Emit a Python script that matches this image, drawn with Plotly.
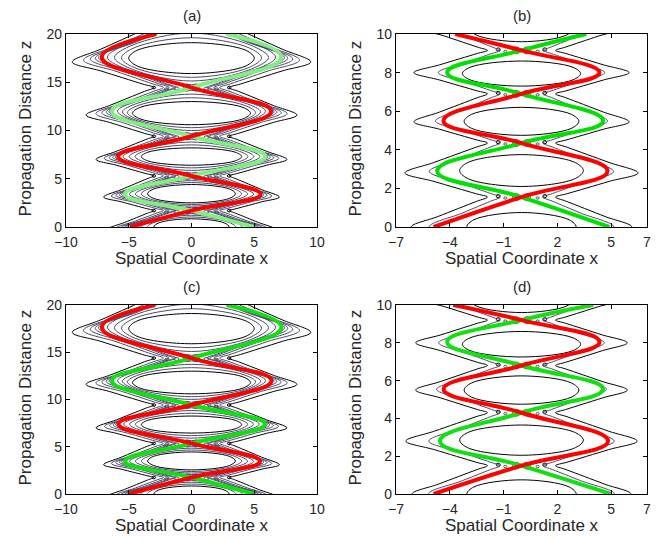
import plotly.graph_objects as go

FIG_W, FIG_H = 665, 541
FONT = "Liberation Sans, Arial, Helvetica, sans-serif"
TXT = "#262626"
BLACK = "#000000"
NAVY = "#4a4a68"
RED = "#ff0000"

# ---------------- values ----------------
# Panel (a): beam trajectories
a_turn_z = [0.0, 3.4, 7.3, 12.0, 17.6]
a_red_turn_x = [-4.9, 5.5, -5.85, 6.35, -7.15]
a_green_turn_x = [5.0, -5.3, 5.9, -6.35, 7.15]
a_cross_z = [1.7, 5.3, 9.4, 14.45]
a_end_z = 20.0
a_red_end_x = -2.8
a_green_end_x = 2.8
# Panel (a): contour skeleton (per lobe)
a_lobe_amp = [5.0, 5.4, 5.9, 6.35, 7.15]
a_cross_ext = [-1.7, 1.7, 5.3, 9.4, 14.45, 20.9]
a_outer_x = [6.6, 7.0, 7.6, 8.4, 9.5]
a_outer_z = [-0.2, 3.1, 7.0, 11.6, 17.1]
a_waist_x = 3.0
a_inner_x = [3.0, 3.5, 4.0, 4.7, 5.0]
a_inner_lo = [-0.85, 2.5, 6.4, 10.6, 15.9]
a_inner_hi = [0.85, 4.4, 8.2, 13.0, 19.1]

# Panel (b)
b_turn_z = [0.0, 2.9, 5.5, 8.0]
b_red_turn_x = [-4.9, 4.8, -4.35, 4.35]
b_green_turn_x = [4.9, -4.7, 4.55, -4.15]
b_cross_z = [1.55, 4.35, 6.9, 9.15]
b_end_z = 10.0
b_red_end_x = -3.7
b_green_end_x = 3.6
b_lobe_z = [0.0, 2.9, 5.5, 8.0, 10.3]
b_lobe_amp = [4.9, 4.8, 4.5, 4.3, 3.9]
b_cross_ext = [-1.5, 1.55, 4.35, 6.9, 9.15, 11.6]
b_outer_x = [6.15, 6.5, 6.0, 6.0, 5.6]
b_outer_z = [0.0, 2.8, 5.45, 8.0, 10.3]
b_waist_x = 1.9
b_inner_x = [3.05, 3.45, 3.2, 3.3, 2.9]
b_inner_lo = [-0.75, 2.1, 4.75, 7.3, 9.6]
b_inner_hi = [0.75, 3.75, 6.2, 8.6, 11.0]

# Panel (c)
c_turn_z = [0.0, 3.45, 7.4, 12.0, 17.65]
c_red_turn_x = [-5.0, 5.45, -5.82, 6.37, -7.14]
c_green_turn_x = [5.0, -5.3, 5.85, -6.34, 7.17]
c_cross_z = [1.75, 5.35, 9.42, 14.38]
c_end_z = 20.0
c_red_end_x = -2.9
c_green_end_x = 2.8
c_lobe_amp = [5.0, 5.4, 5.85, 6.35, 7.15]
c_cross_ext = [-1.75, 1.75, 5.35, 9.42, 14.38, 20.9]
c_outer_x = [6.6, 7.0, 7.6, 8.4, 9.5]
c_outer_z = [-0.2, 3.1, 7.0, 11.6, 17.1]
c_waist_x = 3.0
c_inner_x = [3.0, 3.5, 4.0, 4.7, 5.0]
c_inner_lo = [-0.85, 2.55, 6.45, 10.6, 15.9]
c_inner_hi = [0.85, 4.45, 8.25, 13.0, 19.1]

# Panel (d)
d_turn_z = [0.0, 2.8, 5.55, 8.05]
d_red_turn_x = [-4.9, 4.83, -4.35, 4.35]
d_green_turn_x = [5.0, -4.55, 4.55, -4.15]
d_cross_z = [1.5, 4.3, 6.8, 9.2]
d_end_z = 10.0
d_red_end_x = -3.8
d_green_end_x = 4.0
d_lobe_z = [0.0, 2.8, 5.55, 8.0, 10.3]
d_lobe_amp = [4.95, 4.85, 4.45, 4.3, 4.0]
d_cross_ext = [-1.5, 1.5, 4.3, 6.8, 9.2, 11.6]
d_outer_x = [6.1, 6.45, 5.9, 5.9, 5.6]
d_outer_z = [0.0, 2.8, 5.5, 8.0, 10.3]
d_waist_x = 1.9
d_inner_x = [3.05, 3.45, 3.2, 3.3, 2.9]
d_inner_lo = [-0.75, 2.05, 4.75, 7.25, 9.6]
d_inner_hi = [0.75, 3.65, 6.25, 8.6, 11.0]

# axis ticks
ab_x_ticks = [-10, -5, 0, 5, 10]
ab_z_ticks = [0, 5, 10, 15, 20]
bd_x_ticks = [-7, -4, -1, 2, 5, 7]
bd_z_ticks = [0, 2, 4, 6, 8, 10]
panel_titles = ["(a)", "(b)", "(c)", "(d)"]
x_label = "Spatial Coordinate x"
z_label = "Propagation Distance z"

# ---------------- helpers ----------------

def traj(turn_z, turn_x, cross_z, end_z, end_x):
    xs, zs = [], []
    for i in range(len(turn_z)):
        xs.append(turn_x[i]); zs.append(turn_z[i])
        if i < len(cross_z):
            xs.append(0.0); zs.append(cross_z[i])
    xs.append(end_x); zs.append(end_z)
    return xs, zs


def outer_line(f, lobe_z, amp, outer_x, outer_z, cross_ext, waist, waist0=1.0):
    w = waist0 + f * (waist - waist0)
    tips = [(amp[i] + f * (outer_x[i] - amp[i]), lobe_z[i] + f * (outer_z[i] - lobe_z[i]))
            for i in range(len(amp))]
    near_w = 0.14
    near_t = 0.5 + 0.15 * f
    xs, zs = [], []
    for i, c in enumerate(cross_ext):
        if i > 0:
            tx, tz = tips[i - 1]
            xs.append(w + near_w * (tx - w)); zs.append(c + near_w * (tz - c))
        xs.append(w); zs.append(c)
        if i < len(tips):
            tx, tz = tips[i]
            xs.append(w + near_w * (tx - w)); zs.append(c + near_w * (tz - c))
            xs.append(w + near_t * (tx - w)); zs.append(c + near_t * (tz - c))
            xs.append(tx); zs.append(tz)
            if i + 1 < len(cross_ext):
                c2 = cross_ext[i + 1]
                xs.append(w + near_t * (tx - w)); zs.append(c2 + near_t * (tz - c2))
    return xs, zs


def inner_lens(i, f, lobe_z, amp, cross_ext, inner_x, inner_lo, inner_hi):
    bL = amp[i] - 0.45
    blo = cross_ext[i] + 0.3
    bhi = cross_ext[i + 1] - 0.3
    L = bL + f * (inner_x[i] - bL)
    lo = blo + f * (inner_lo[i] - blo)
    hi = bhi + f * (inner_hi[i] - bhi)
    zt = lobe_z[i] + f * ((inner_lo[i] + inner_hi[i]) / 2 - lobe_z[i])
    k = 0.72 + 0.15 * f
    xs = [0, -k * L, -L, -k * L, 0, k * L, L, k * L, 0]
    zs = [lo, (lo + zt) / 2, zt, (hi + zt) / 2, hi, (hi + zt) / 2, zt, (lo + zt) / 2, lo]
    return xs, zs


fig = go.Figure()
shapes = []

panels = [
    dict(n=1, dx=(66, 317), dy=(34, 227), xr=[-10, 10], xt=ab_x_ticks, zr=[0, 20], zt=ab_z_ticks,
         turn_z=a_turn_z, red=a_red_turn_x, green=a_green_turn_x, cross=a_cross_z,
         end_z=a_end_z, red_end=a_red_end_x, green_end=a_green_end_x,
         lobe_z=a_turn_z, amp=a_lobe_amp, cross_ext=a_cross_ext, outer_x=a_outer_x, outer_z=a_outer_z,
         waist=a_waist_x, inner_x=a_inner_x, inner_lo=a_inner_lo, inner_hi=a_inner_hi,
         out_fracs=[1.0, 0.62, 0.39, 0.22, 0.11], in_fracs=[0.0, 0.33, 0.66, 1.0],
         gcol="#80ee80", kind="wide"),
    dict(n=2, dx=(396, 647), dy=(34, 227), xr=[-7, 7], xt=bd_x_ticks, zr=[0, 10], zt=bd_z_ticks,
         turn_z=b_turn_z, red=b_red_turn_x, green=b_green_turn_x, cross=b_cross_z,
         end_z=b_end_z, red_end=b_red_end_x, green_end=b_green_end_x,
         lobe_z=b_lobe_z, amp=b_lobe_amp, cross_ext=b_cross_ext, outer_x=b_outer_x, outer_z=b_outer_z,
         waist=b_waist_x, inner_x=b_inner_x, inner_lo=b_inner_lo, inner_hi=b_inner_hi,
         out_fracs=[1.0, 0.2], in_fracs=[1.0],
         gcol="#00e000", kind="narrow"),
    dict(n=3, dx=(66, 317), dy=(305, 494), xr=[-10, 10], xt=ab_x_ticks, zr=[0, 20], zt=ab_z_ticks,
         turn_z=c_turn_z, red=c_red_turn_x, green=c_green_turn_x, cross=c_cross_z,
         end_z=c_end_z, red_end=c_red_end_x, green_end=c_green_end_x,
         lobe_z=c_turn_z, amp=c_lobe_amp, cross_ext=c_cross_ext, outer_x=c_outer_x, outer_z=c_outer_z,
         waist=c_waist_x, inner_x=c_inner_x, inner_lo=c_inner_lo, inner_hi=c_inner_hi,
         out_fracs=[1.0, 0.62, 0.39, 0.22, 0.11], in_fracs=[0.0, 0.33, 0.66, 1.0],
         gcol="#10e010", kind="wide"),
    dict(n=4, dx=(396, 647), dy=(305, 494), xr=[-7, 7], xt=bd_x_ticks, zr=[0, 10], zt=bd_z_ticks,
         turn_z=d_turn_z, red=d_red_turn_x, green=d_green_turn_x, cross=d_cross_z,
         end_z=d_end_z, red_end=d_red_end_x, green_end=d_green_end_x,
         lobe_z=d_lobe_z, amp=d_lobe_amp, cross_ext=d_cross_ext, outer_x=d_outer_x, outer_z=d_outer_z,
         waist=d_waist_x, inner_x=d_inner_x, inner_lo=d_inner_lo, inner_hi=d_inner_hi,
         out_fracs=[1.0, 0.2], in_fracs=[1.0],
         gcol="#10e010", kind="narrow"),
]

blob_styles = {
    "wide": [(0.35, 0.0, 0.3, 0.38, NAVY), (0.35, 0.0, 0.14, 0.18, NAVY),
             (1.2, -0.1, 0.2, 0.16, NAVY), (2.0, -0.15, 0.16, 0.12, NAVY), (3.0, 0.0, 0.14, 0.14, BLACK)],
    "narrow": [(0.3, 0.0, 0.2, 0.18, NAVY), (0.3, 0.0, 0.09, 0.09, NAVY),
               (1.3, 0.05, 0.11, 0.08, BLACK), (0.9, -0.05, 0.09, 0.06, NAVY)],
}

layout_axes = {}
annotations = []
for p in panels:
    n = p["n"]
    xa = "x" if n == 1 else f"x{n}"
    ya = "y" if n == 1 else f"y{n}"
    # contour lines: outer wavy lines
    for f in p["out_fracs"]:
        col = BLACK if f == 1.0 else NAVY
        xs, zs = outer_line(f, p["lobe_z"], p["amp"], p["outer_x"], p["outer_z"], p["cross_ext"], p["waist"])
        for side in (-1, 1):
            fig.add_trace(go.Scatter(x=[side * v for v in xs], y=zs, mode="lines", xaxis=xa, yaxis=ya,
                                     line=dict(color=col, width=1, shape="spline", smoothing=1.0),
                                     hoverinfo="skip", showlegend=False))
    # inner lenses
    for i in range(len(p["amp"])):
        for f in p["in_fracs"]:
            col = BLACK if f == 1.0 else NAVY
            xs, zs = inner_lens(i, f, p["lobe_z"], p["amp"], p["cross_ext"], p["inner_x"], p["inner_lo"], p["inner_hi"])
            fig.add_trace(go.Scatter(x=xs, y=zs, mode="lines", xaxis=xa, yaxis=ya,
                                     line=dict(color=col, width=1, shape="spline", smoothing=1.0),
                                     hoverinfo="skip", showlegend=False))
    # small closed contours near the crossings
    for c in p["cross"]:
        for (dx, dz, rx, rz, col) in blob_styles[p["kind"]]:
            for side in (-1, 1):
                cx = side * dx
                shapes.append(dict(type="circle", xref=xa, yref=ya, x0=cx - rx, x1=cx + rx,
                                   y0=c + dz - rz, y1=c + dz + rz, line=dict(color=col, width=1), layer="below"))
    # beams
    gx, gz = traj(p["turn_z"], p["green"], p["cross"], p["end_z"], p["green_end"])
    fig.add_trace(go.Scatter(x=gx, y=gz, mode="lines", xaxis=xa, yaxis=ya,
                             line=dict(color=p["gcol"], width=4, shape="spline", smoothing=1.3),
                             hoverinfo="skip", showlegend=False))
    rx_, rz_ = traj(p["turn_z"], p["red"], p["cross"], p["end_z"], p["red_end"])
    fig.add_trace(go.Scatter(x=rx_, y=rz_, mode="lines", xaxis=xa, yaxis=ya,
                             line=dict(color=RED, width=4, shape="spline", smoothing=1.3),
                             hoverinfo="skip", showlegend=False))

    x0, x1 = p["dx"]
    top, bot = p["dy"]
    common = dict(showline=True, linecolor="black", linewidth=1.2, mirror="ticks", ticks="inside",
                  ticklen=4, tickcolor="black", tickwidth=1, showgrid=False, zeroline=False,
                  tickfont=dict(family=FONT, size=14, color=TXT))
    layout_axes["xaxis" if n == 1 else f"xaxis{n}"] = dict(
        common, domain=[x0 / FIG_W, x1 / FIG_W], range=p["xr"], tickvals=p["xt"], anchor=ya,
        ticklabelstandoff=2)
    layout_axes["yaxis" if n == 1 else f"yaxis{n}"] = dict(
        common, domain=[1 - bot / FIG_H, 1 - top / FIG_H], range=p["zr"], tickvals=p["zt"], anchor=xa)

    cx = (x0 + x1) / 2
    annotations.append(dict(text=panel_titles[n - 1], x=cx / FIG_W, y=1 - (top - 19) / FIG_H,
                            xref="paper", yref="paper", showarrow=False, xanchor="center", yanchor="middle",
                            font=dict(family=FONT, size=15, color=TXT)))
    annotations.append(dict(text=x_label, x=cx / FIG_W, y=1 - (bot + 31) / FIG_H,
                            xref="paper", yref="paper", showarrow=False, xanchor="center", yanchor="middle",
                            font=dict(family=FONT, size=17, color=TXT)))
    annotations.append(dict(text=z_label, x=(x0 - 41) / FIG_W, y=1 - ((top + bot) / 2 - 2) / FIG_H,
                            xref="paper", yref="paper", showarrow=False, xanchor="center", yanchor="middle",
                            textangle=-90, font=dict(family=FONT, size=17, color=TXT)))

fig.update_layout(
    width=FIG_W, height=FIG_H, template="none",
    margin=dict(l=0, r=0, t=0, b=0, autoexpand=False),
    paper_bgcolor="white", plot_bgcolor="white",
    shapes=shapes, annotations=annotations, showlegend=False,
    **layout_axes,
)

fig.write_html("out.html",
               config={"displayModeBar": False, "staticPlot": True},
               post_script="document.body.style.margin='0';document.body.style.padding='0';"
                           "document.body.style.overflow='hidden';")
